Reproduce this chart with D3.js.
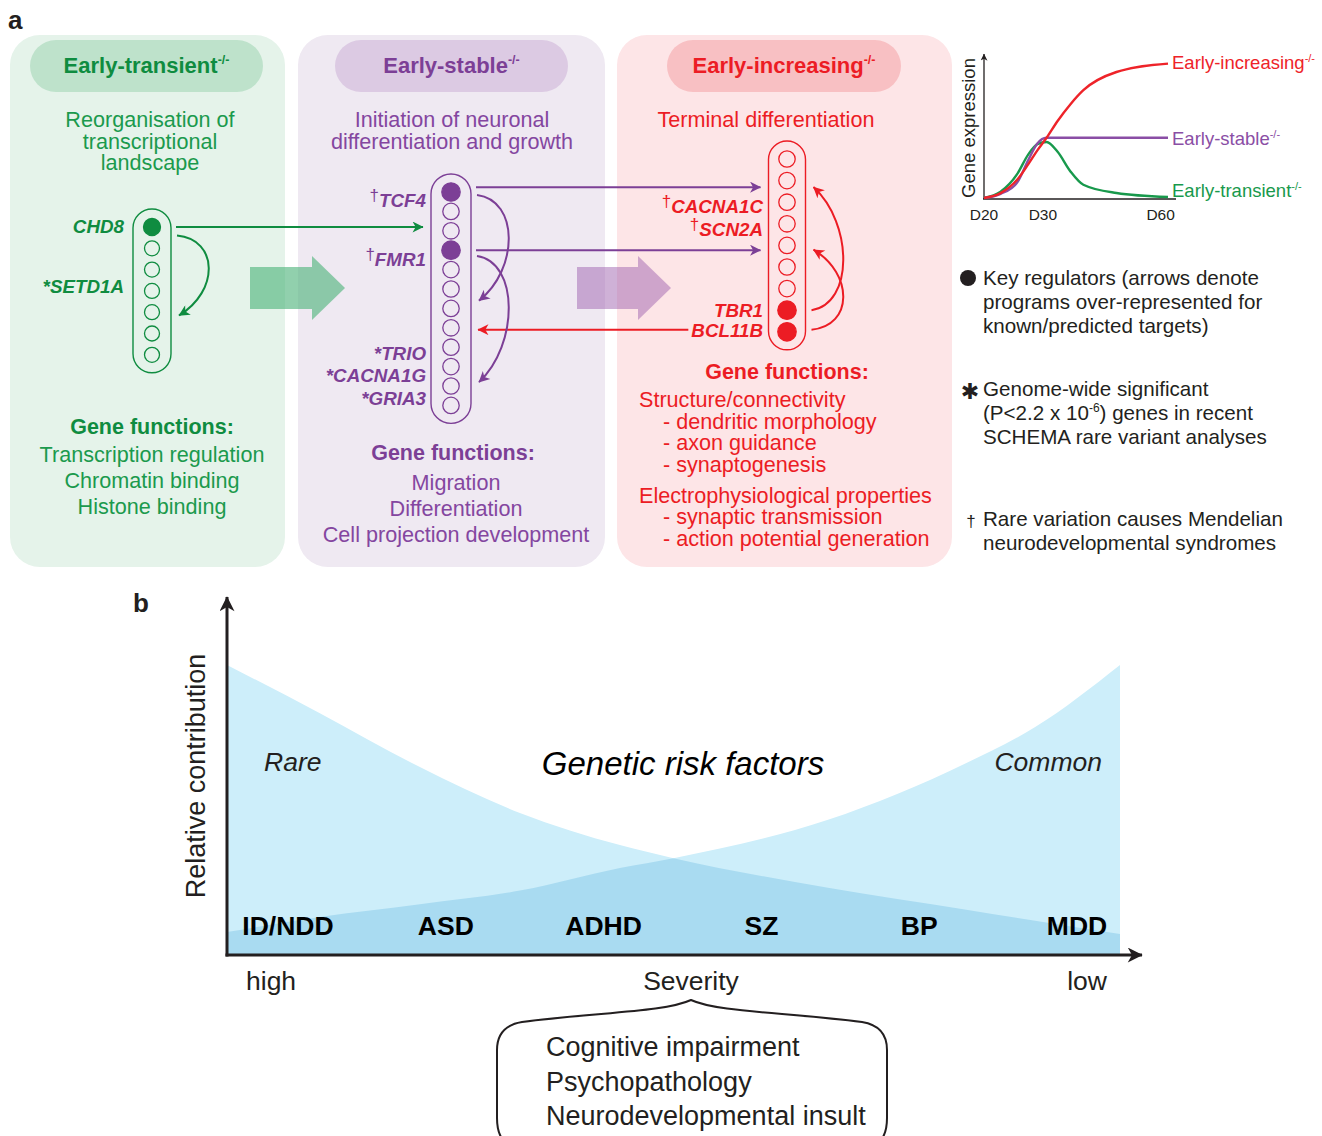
<!DOCTYPE html>
<html><head><meta charset="utf-8">
<script src="https://cdn.jsdelivr.net/npm/d3@7"></script>
<style>body{margin:0;background:#fff}svg{display:block}</style>
</head><body>
<svg id="fig" width="1322" height="1136"></svg>
<script>
// ================= DATA =================
const programNames = ["Early-transient", "Early-stable", "Early-increasing"];
const programProcess = [
  ["Reorganisation of", "transcriptional", "landscape"],
  ["Initiation of neuronal", "differentiation and growth"],
  ["Terminal differentiation"]
];
const functionsTransient = ["Transcription regulation", "Chromatin binding", "Histone binding"];
const functionsStable = ["Migration", "Differentiation", "Cell projection development"];
const functionsIncreasing = [
  ["Structure/connectivity", 0], ["- dendritic morphology", 1], ["- axon guidance", 1], ["- synaptogenesis", 1],
  ["Electrophysiological properties", 0], ["- synaptic transmission", 1], ["- action potential generation", 1]
];
const moduleGeneCounts = [7, 12, 9];
const keyRegulatorIdx = [[0], [0, 3], [7, 8]];
// gene labels: module, mark, name, position along the module (gene index)
const geneLabels = [
  [0, "", "CHD8", 0], [0, "*", "SETD1A", 2.8],
  [1, "†", "TCF4", 0.45], [1, "†", "FMR1", 3.5], [1, "*", "TRIO", 8.35], [1, "*", "CACNA1G", 9.5], [1, "*", "GRIA3", 10.65],
  [2, "†", "CACNA1C", 2.2], [2, "†", "SCN2A", 3.3], [2, "", "TBR1", 7.05], [2, "", "BCL11B", 7.95]
];
// regulator → module links (between modules): from module, from gene, to module
const crossLinks = [[0, 0, 1], [1, -0.25, 2], [1, 3, 2], [2, 7.9, 1]];
// within-module links: module, from gene, to gene
const selfLinks = [[0, 0.4, 4.15], [1, 0.15, 5.6], [1, 3.3, 9.8], [2, 7.0, 1.3], [2, 7.9, 4.2]];

// expression trajectories (time index: D20=0 ... D60=9.6)
const timeGrid = [0, 0.9, 1.8, 2.4, 2.9, 3.4, 4.0, 4.7, 5.4, 7.2, 10];
const exprIncreasing = [0, 0.035, 0.13, 0.24, 0.34, 0.43, 0.55, 0.67, 0.77, 0.9, 0.96];
const exprStable = [0, 0.03, 0.11, 0.27, 0.39, 0.43, 0.43, 0.43, 0.43, 0.43, 0.43];
const exprTransient = [0, 0.045, 0.17, 0.31, 0.385, 0.40, 0.33, 0.19, 0.095, 0.036, 0.007];
const timeTickLabels = ["D20", "D30", "D60"];
const timeTickAt = [0, 3.2, 9.6];

const legendLines = [
  ["Key regulators (arrows denote", "programs over-represented for", "known/predicted targets)"],
  ["Genome-wide significant", "(P<2.2 x 10|-6|) genes in recent", "SCHEMA rare variant analyses"],
  ["Rare variation causes Mendelian", "neurodevelopmental syndromes"]
];

// panel b
const severityGrid = [0, 0.104, 0.216, 0.328, 0.44, 0.5, 0.673, 0.828, 0.905, 1.0];
const rareContribution = [1.0, 0.834, 0.648, 0.49, 0.379, 0.334, 0.232, 0.156, 0.118, 0.072];
const commonContribution = [0.079, 0.131, 0.175, 0.222, 0.3, 0.334, 0.466, 0.662, 0.786, 1.0];
const disorders = ["ID/NDD", "ASD", "ADHD", "SZ", "BP", "MDD"];
const severityLabels = ["high", "Severity", "low"];
const symptomDimensions = ["Cognitive impairment", "Psychopathology", "Neurodevelopmental insult"];

// ================= LAYOUT / STYLE =================
const FONT = "'Liberation Sans', Arial, Helvetica, sans-serif";
const svg = d3.select("#fig").attr("font-family", FONT);
const defs = svg.append("defs");
const FS = 21.6; // panel a body font

const panels = [
  {x: 10, w: 275, bg: "#e5f3ea", pill: "#bee2cb", pillX: 30, pillW: 233, title: "#0f8c40", text: "#1b9a4d", cx: 150},
  {x: 298, w: 307, bg: "#efe9f2", pill: "#dccae3", pillX: 335, pillW: 233, title: "#7c3f96", text: "#8446a0", cx: 452},
  {x: 617, w: 335, bg: "#fde5e7", pill: "#f8c0c3", pillX: 667, pillW: 234, title: "#ec1c24", text: "#ec1c24", cx: 766}
];
const columns = [
  {cx: 152, y0: 227, step: 21.3, r: 7.5, w: 38, labelX: 124},
  {cx: 451, y0: 192, step: 19.4, r: 8.2, w: 40, labelX: 426},
  {cx: 787, y0: 159, step: 21.6, r: 8.2, w: 37, labelX: 763}
];
columns.forEach((c, i) => {
  c.n = moduleGeneCounts[i];
  c.y = d3.scaleLinear().domain([0, c.n - 1]).range([c.y0, c.y0 + c.step * (c.n - 1)]);
  c.color = panels[i].title;
});

// arrow markers
function marker(id, color, len, wid) {
  defs.append("marker").attr("id", id)
    .attr("viewBox", "0 0 10 10").attr("refX", 9.5).attr("refY", 5)
    .attr("markerUnits", "userSpaceOnUse").attr("markerWidth", len).attr("markerHeight", wid)
    .attr("orient", "auto")
    .append("path").attr("d", "M0,0 L10,5 L0,10 L2.8,5 Z").attr("fill", color);
}
panels.forEach((p, i) => marker("arr" + i, p.title, 13, 11));

// "a" label
svg.append("text").attr("x", 8).attr("y", 29).attr("font-size", 26).attr("font-weight", "bold").attr("fill", "#231f20").text("a");

// panels
panels.forEach((p, i) => {
  const g = svg.append("g");
  g.append("rect").attr("x", p.x).attr("y", 35).attr("width", p.w).attr("height", 532).attr("rx", 30).attr("fill", p.bg);
  g.append("rect").attr("x", p.pillX).attr("y", 40).attr("width", p.pillW).attr("height", 52).attr("rx", 26).attr("fill", p.pill);
  const t = g.append("text").attr("x", p.pillX + p.pillW / 2).attr("y", 73).attr("text-anchor", "middle")
    .attr("font-size", 22).attr("font-weight", "bold").attr("fill", p.title);
  t.append("tspan").text(programNames[i]);
  t.append("tspan").attr("font-size", 12.5).attr("dy", -9).text("-/-");
  programProcess[i].forEach((line, k) => {
    g.append("text").attr("x", p.cx).attr("y", 127 + k * 21.5).attr("text-anchor", "middle")
      .attr("font-size", FS).attr("fill", p.text).text(line);
  });
});

// gene functions
function gfTitle(x, y, color) {
  svg.append("text").attr("x", x).attr("y", y).attr("text-anchor", "middle").attr("font-size", 21.5)
    .attr("font-weight", "bold").attr("fill", color).text("Gene functions:");
}
gfTitle(152, 434, panels[0].title);
functionsTransient.forEach((s, k) => svg.append("text").attr("x", 152).attr("y", 462 + k * 26)
  .attr("text-anchor", "middle").attr("font-size", FS).attr("fill", panels[0].text).text(s));
gfTitle(453, 460, panels[1].title);
functionsStable.forEach((s, k) => svg.append("text").attr("x", 456).attr("y", 490 + k * 26)
  .attr("text-anchor", "middle").attr("font-size", FS).attr("fill", panels[1].text).text(s));
gfTitle(787, 379, panels[2].title);
{
  let y = 407;
  functionsIncreasing.forEach(([s, lvl], k) => {
    if (k > 0) y += (lvl === 0 ? 31 : 21.5);
    svg.append("text").attr("x", lvl ? 663 : 639).attr("y", y).attr("font-size", FS)
      .attr("fill", panels[2].text).text(s);
  });
}

// big transition arrows
const bigArrows = [{x0: 250, x1: 345, cy: 288, color: "#4db37a", op: 0.62}, {x0: 577, x1: 671, cy: 288, color: "#a064b0", op: 0.5}];
bigArrows.forEach(a => {
  const hl = 33, sh = 21, hh = 32, xh = a.x1 - hl;
  const pts = [[a.x0, a.cy - sh], [xh, a.cy - sh], [xh, a.cy - hh], [a.x1, a.cy], [xh, a.cy + hh], [xh, a.cy + sh], [a.x0, a.cy + sh]];
  svg.append("path").attr("d", d3.line()(pts) + "Z").attr("fill", a.color).attr("fill-opacity", a.op);
});

// modules (capsules + circles)
columns.forEach((c, i) => {
  const g = svg.append("g");
  g.append("rect").attr("x", c.cx - c.w / 2).attr("y", c.y(0) - 18).attr("width", c.w)
    .attr("height", c.y(c.n - 1) - c.y(0) + 36).attr("rx", c.w / 2)
    .attr("fill", "none").attr("stroke", c.color).attr("stroke-width", 1.4);
  g.selectAll("circle").data(d3.range(c.n)).join("circle")
    .attr("cx", c.cx).attr("cy", d => c.y(d))
    .attr("r", d => keyRegulatorIdx[i].includes(d) ? c.r + 1 : c.r)
    .attr("fill", d => keyRegulatorIdx[i].includes(d) ? c.color : "none")
    .attr("stroke", c.color).attr("stroke-width", 1.3);
});

// gene labels
const labelNodes = {};
geneLabels.forEach(([m, mark, name, pos]) => {
  const c = columns[m];
  const t = svg.append("text").attr("x", c.labelX).attr("y", c.y(pos) + 6).attr("text-anchor", "end")
    .attr("font-size", 18.8).attr("font-weight", "bold").attr("font-style", "italic").attr("fill", c.color);
  if (mark === "†") {
    t.append("tspan").attr("font-weight", "normal").attr("font-style", "normal").attr("font-size", 17).attr("dy", -6).text("†");
    t.append("tspan").attr("dy", 6).text(name);
  } else {
    t.text(mark + name);
  }
  labelNodes[name] = t.node();
});

// cross-module links
crossLinks.forEach(([fm, fi, tm]) => {
  const c = columns[fm], tc = columns[tm];
  const y = c.y(fi);
  let x0, x1;
  if (tm > fm) { x0 = c.cx + c.w / 2 + 5; x1 = tc.cx - tc.w / 2 - 8; }
  else {
    const bb = labelNodes["BCL11B"].getBBox();
    x0 = bb.x - 3; x1 = tc.cx + tc.w / 2 + 7;
  }
  svg.append("line").attr("x1", x0).attr("y1", y).attr("x2", x1).attr("y2", y)
    .attr("stroke", c.color).attr("stroke-width", 2).attr("marker-end", `url(#arr${fm})`);
});

// within-module links
selfLinks.forEach(([m, fi, ti]) => {
  const c = columns[m];
  const sx = c.cx + c.w / 2 + 6, sy = c.y(fi), ex = sx + 2, ey = c.y(ti), b = 42;
  const d = `M${sx},${sy} C${sx + b},${sy + (ey - sy) * 0.05} ${sx + b},${ey - (ey - sy) * 0.3} ${ex},${ey}`;
  svg.append("path").attr("d", d).attr("fill", "none").attr("stroke", c.color).attr("stroke-width", 2)
    .attr("marker-end", `url(#arr${m})`);
});

// ---------- expression mini-chart ----------
const tx = d3.scaleLinear().domain([0, 10]).range([984, 1168]);
const ty = d3.scaleLinear().domain([0, 1]).range([198, 58]);
defs.append("marker").attr("id", "axSmall").attr("viewBox", "0 0 10 10").attr("refX", 9.5).attr("refY", 5)
  .attr("markerUnits", "userSpaceOnUse").attr("markerWidth", 8).attr("markerHeight", 7).attr("orient", "auto")
  .append("path").attr("d", "M0,0 L10,5 L0,10 L2.8,5 Z").attr("fill", "#231f20");
svg.append("line").attr("x1", tx(0)).attr("y1", ty(0) + 1).attr("x2", tx(0)).attr("y2", 54)
  .attr("stroke", "#231f20").attr("stroke-width", 1.3).attr("marker-end", "url(#axSmall)");
svg.append("line").attr("x1", tx(0) - 1).attr("y1", ty(0) + 1).attr("x2", 1176).attr("y2", ty(0) + 1)
  .attr("stroke", "#231f20").attr("stroke-width", 1.3);
timeTickLabels.forEach((l, k) => svg.append("text").attr("x", tx(timeTickAt[k])).attr("y", 220)
  .attr("text-anchor", "middle").attr("font-size", 15.5).attr("fill", "#231f20").text(l));
svg.append("text").attr("transform", "translate(975,128) rotate(-90)").attr("text-anchor", "middle")
  .attr("font-size", 18.5).attr("fill", "#231f20").text("Gene expression");
const exprLine = d3.line().x((d, k) => tx(timeGrid[k])).y(d => ty(d)).curve(d3.curveMonotoneX);
const series = [
  {v: exprTransient, color: "#18994c", name: programNames[0], ly: 197},
  {v: exprStable, color: "#8a4ea5", name: programNames[1], ly: 145},
  {v: exprIncreasing, color: "#ee2329", name: programNames[2], ly: 69}
];
series.forEach(s => {
  svg.append("path").attr("d", exprLine(s.v)).attr("fill", "none").attr("stroke", s.color).attr("stroke-width", 2.4);
  const t = svg.append("text").attr("x", 1172).attr("y", s.ly).attr("font-size", 18.5).attr("fill", s.color);
  t.append("tspan").text(s.name);
  t.append("tspan").attr("font-size", 11).attr("dy", -7).text("-/-");
});

// ---------- legend ----------
svg.append("circle").attr("cx", 968).attr("cy", 278).attr("r", 8).attr("fill", "#231f20");
svg.append("text").attr("x", 970).attr("y", 399).attr("text-anchor", "middle").attr("font-size", 22)
  .attr("font-family", "'DejaVu Sans', sans-serif").attr("fill", "#231f20").text("✱");
svg.append("text").attr("x", 971).attr("y", 527).attr("text-anchor", "middle").attr("font-size", 17).attr("fill", "#231f20").text("†");
const legendY = [285, 396, 526];
legendLines.forEach((lines, k) => {
  lines.forEach((line, j) => {
    const t = svg.append("text").attr("x", 983).attr("y", legendY[k] + j * 24).attr("font-size", 20.6).attr("fill", "#231f20");
    const parts = line.split("|");
    if (parts.length === 3) {
      t.append("tspan").text(parts[0]);
      t.append("tspan").attr("font-size", 12).attr("dy", -8).text(parts[1]);
      t.append("tspan").attr("dy", 8).text(parts[2]);
    } else t.text(line);
  });
});

// ================= PANEL b =================
svg.append("text").attr("x", 133).attr("y", 612).attr("font-size", 26).attr("font-weight", "bold").attr("fill", "#231f20").text("b");
const sx = d3.scaleLinear().domain([0, 1]).range([227, 1120]);
const sy = d3.scaleLinear().domain([0, 1]).range([955, 665]);
const area = d3.area().x((d, k) => sx(severityGrid[k])).y0(sy(0)).y1(d => sy(d)).curve(d3.curveMonotoneX);
const LIGHT = "#cdeefa", DARK = "#a9dbf1";
defs.append("clipPath").attr("id", "rareClip").append("path").attr("d", area(rareContribution));
svg.append("path").attr("d", area(rareContribution)).attr("fill", LIGHT);
svg.append("path").attr("d", area(commonContribution)).attr("fill", LIGHT);
svg.append("path").attr("d", area(commonContribution)).attr("fill", DARK).attr("clip-path", "url(#rareClip)");

// axes
defs.append("marker").attr("id", "axBig").attr("viewBox", "0 0 10 10").attr("refX", 9.5).attr("refY", 5)
  .attr("markerUnits", "userSpaceOnUse").attr("markerWidth", 20).attr("markerHeight", 15).attr("orient", "auto")
  .append("path").attr("d", "M0,0 L10,5 L0,10 L2.8,5 Z").attr("fill", "#231f20");
svg.append("line").attr("x1", sx(0)).attr("y1", sy(0) + 1.5).attr("x2", sx(0)).attr("y2", 597)
  .attr("stroke", "#231f20").attr("stroke-width", 3).attr("marker-end", "url(#axBig)");
svg.append("line").attr("x1", sx(0) - 1.5).attr("y1", sy(0)).attr("x2", 1142).attr("y2", sy(0))
  .attr("stroke", "#231f20").attr("stroke-width", 3).attr("marker-end", "url(#axBig)");

svg.append("text").attr("transform", "translate(205,776) rotate(-90)").attr("text-anchor", "middle")
  .attr("font-size", 27).attr("fill", "#231f20").text("Relative contribution");

const dx = d3.scalePoint().domain(disorders).range([288, 1077]);
disorders.forEach(d => svg.append("text").attr("x", dx(d)).attr("y", 935).attr("text-anchor", "middle")
  .attr("font-size", 26.5).attr("font-weight", "bold").attr("fill", "#000").text(d));

svg.append("text").attr("x", 264).attr("y", 771).attr("font-size", 26.5).attr("font-style", "italic").attr("fill", "#231f20").text("Rare");
svg.append("text").attr("x", 1102).attr("y", 771).attr("text-anchor", "end").attr("font-size", 26.5).attr("font-style", "italic").attr("fill", "#231f20").text("Common");
svg.append("text").attr("x", 683).attr("y", 775).attr("text-anchor", "middle").attr("font-size", 33).attr("font-style", "italic").attr("fill", "#000").text("Genetic risk factors");

svg.append("text").attr("x", 246).attr("y", 990).attr("font-size", 26.5).attr("fill", "#231f20").text(severityLabels[0]);
svg.append("text").attr("x", 691).attr("y", 990).attr("text-anchor", "middle").attr("font-size", 26.5).attr("fill", "#231f20").text(severityLabels[1]);
svg.append("text").attr("x", 1107).attr("y", 990).attr("text-anchor", "end").attr("font-size", 26.5).attr("fill", "#231f20").text(severityLabels[2]);

// bracket box
const bx0 = 497, bx1 = 887, bpx = 691;
const boxPath = `M${bx0 + 4},1137 Q${bx0},1130 ${bx0},1118 L${bx0},1050 Q${bx0},1026 ${bx0 + 25},1022 C600,1012 665,1012 ${bpx},1000 C717,1012 782,1012 ${bx1 - 25},1022 Q${bx1},1026 ${bx1},1050 L${bx1},1118 Q${bx1},1130 ${bx1 - 4},1137`;
svg.append("path").attr("d", boxPath).attr("fill", "none").attr("stroke", "#231f20").attr("stroke-width", 2);
symptomDimensions.forEach((s, k) => svg.append("text").attr("x", 546).attr("y", 1056 + k * 34.5)
  .attr("font-size", 27).attr("fill", "#231f20").text(s));
</script>
</body></html>
